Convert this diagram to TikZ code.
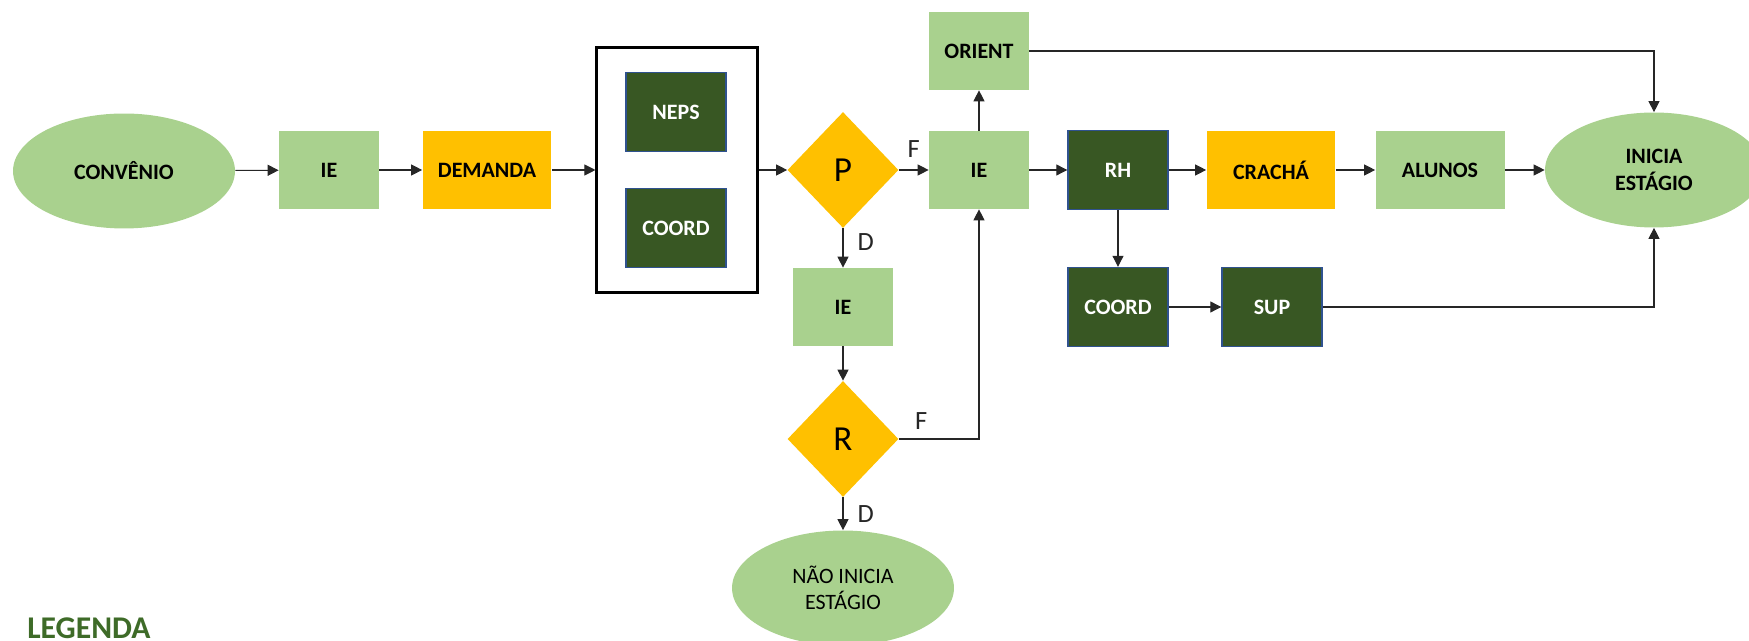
\documentclass[tikz,border=0pt]{standalone}
\usepackage{fontspec}
\setmainfont{Carlito}
\usetikzlibrary{shapes.geometric,arrows.meta}
\definecolor{verdeclaro}{HTML}{A9D18E}
\definecolor{ouro}{HTML}{FFC000}
\definecolor{verdeescuro}{HTML}{385723}
\definecolor{azulborda}{HTML}{2F528F}
\definecolor{corlegenda}{HTML}{3E6B28}
\begin{document}
\begin{tikzpicture}[x=0.02cm,y=-0.02cm,
        caixa/.style={rectangle,minimum width=2cm,minimum height=1.56cm,inner sep=0pt,font=\fontsize{12.5}{15}\selectfont\bfseries},
        clara/.style={caixa,fill=verdeclaro},
        laranja/.style={caixa,fill=ouro},
        escura/.style={caixa,fill=verdeescuro,draw=azulborda,line width=0.8pt,text=white,minimum height=1.58cm},
        larga/.style={minimum width=2.58cm},
        oval/.style={ellipse,fill=verdeclaro,minimum width=4.44cm,minimum height=2.3cm,inner sep=0pt,align=center,font=\fontsize{12.5}{15}\selectfont\bfseries},
        losango/.style={diamond,fill=ouro,minimum width=2.22cm,minimum height=2.32cm,inner sep=0pt,font=\fontsize{20}{24}\selectfont},
        seta/.style={-{Triangle[length=0.22cm,width=0.22cm]},line width=0.6pt,black!85},
        rotulo/.style={font=\fontsize{15}{17}\selectfont,inner sep=0pt}]
        \useasboundingbox (0,0) rectangle (1749,641);
        \node[oval] (convenio) at (124,171) {CONVÊNIO};
        \node[clara] (ie1) at (329,170) {IE};
        \node[laranja,larga] (demanda) at (487,170) {DEMANDA};
        \node[draw,line width=1.2pt,minimum width=3.22cm,minimum height=4.9cm] (grupo) at (677,170) {};
        \node[escura] (neps) at (676,112) {NEPS};
        \node[escura] (coordA) at (676,228) {COORD};
        \node[losango] (p) at (843,170) {P};
        \node[clara] (ieB) at (979,170) {IE};
        \node[clara] (orient) at (979,51) {ORIENT};
        \node[escura] (rh) at (1118,170) {RH};
        \node[laranja,larga] (cracha) at (1271,170) {CRACHÁ};
        \node[clara,larga] (alunos) at (1440,170) {ALUNOS};
        \node[oval,minimum width=4.36cm] (inicia) at (1654,170) {INICIA\\ESTÁGIO};
        \node[escura] (coordB) at (1118,307) {COORD};
        \node[escura] (sup) at (1272,307) {SUP};
        \node[clara] (ieC) at (843,307) {IE};
        \node[losango] (r) at (843,439) {R};
        \node[oval,font=\fontsize{12.5}{15}\selectfont] (nao) at (843,588) {NÃO INICIA\\ESTÁGIO};
        \node[anchor=base west,inner sep=0pt,text=corlegenda,font=\fontsize{18}{20}\selectfont\bfseries] (legenda) at (27,639) {LEGENDA};
        \draw[seta] (convenio) -- (ie1);
        \draw[seta] (ie1) -- (demanda);
        \draw[seta] (demanda) -- (grupo);
        \draw[seta] (grupo) -- (p);
        \draw[seta] (p) -- node[rotulo,above=7pt]{F} (ieB);
        \draw[seta] (p) -- node[rotulo,right=8pt,pos=0.35]{D} (ieC);
        \draw[seta] (ieB) -- (orient);
        \draw[seta] (ieB) -- (rh);
        \draw[seta] (rh) -- (cracha);
        \draw[seta] (cracha) -- (alunos);
        \draw[seta] (alunos) -- (inicia);
        \draw[seta] (orient) -| (inicia);
        \draw[seta] (rh) -- (coordB);
        \draw[seta] (coordB) -- (sup);
        \draw[seta] (sup) -| (inicia);
        \draw[seta] (ieC) -- (r);
        \draw[seta] (r) -| node[rotulo,above=5pt,pos=0.14]{F} (ieB);
        \draw[seta] (r) -- node[rotulo,right=8pt]{D} (nao);
    \end{tikzpicture}
\end{document}
